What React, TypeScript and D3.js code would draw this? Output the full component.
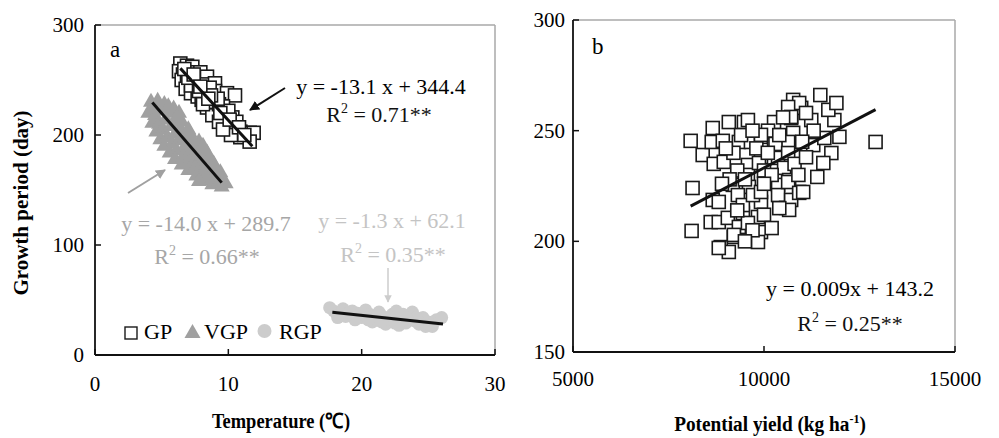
import React from "react";
import * as d3 from "d3";

// ---------- Data ----------
// Panel a: temperature (°C) vs growth period (day)
const gpTemp = [6.4, 6.9, 7.3, 6.3, 6.6, 7.0, 7.9, 7.5, 6.5, 6.9, 7.3, 8.0, 8.4, 7.6, 8.2, 9.0, 6.8, 7.2, 7.7, 8.3, 9.0, 9.9, 10.5, 8.6, 8.0, 8.4, 9.0, 9.5, 8.8, 9.9, 10.3, 9.9, 9.3, 10.5, 10.9, 11.6, 11.9, 10.9, 11.6, 10.2, 9.6, 8.9, 9.3, 7.2, 8.6, 9.6, 10.0, 9.2, 7.0, 7.8, 10.6, 8.1, 6.7, 7.4, 8.7, 9.4, 10.1, 10.8, 11.2, 7.9, 8.5];
const gpDay = [265, 263, 262, 258, 255, 257, 257, 252, 250, 248, 248, 250, 253, 244, 246, 247, 242, 238, 235, 239, 240, 238, 236, 229, 232, 225, 222, 218, 218, 212, 216, 209, 212, 206, 203, 202, 202, 198, 194, 200, 205, 230, 228, 245, 243, 226, 222, 233, 252, 240, 212, 228, 260, 255, 236, 220, 214, 207, 200, 244, 233];

const vgpTemp = [4.2, 4.6, 4.0, 4.5, 5.0, 4.3, 4.8, 5.3, 5.6, 4.6, 5.1, 5.7, 6.0, 4.9, 5.4, 6.0, 6.4, 5.2, 5.8, 6.3, 6.8, 5.6, 6.1, 6.7, 7.2, 6.0, 6.6, 7.1, 7.6, 6.5, 7.0, 7.5, 8.0, 7.0, 7.5, 8.0, 8.4, 7.6, 8.1, 8.6, 8.3, 8.8, 9.2, 8.8, 9.3, 9.8, 9.5, 4.4, 5.2, 7.8, 6.9, 7.9, 5.9, 6.5, 7.1, 7.8, 8.4, 8.9, 9.4, 6.3, 7.3, 8.6, 5.5, 6.2, 7.0, 8.1, 9.0, 4.7];
const vgpDay = [232, 228, 222, 220, 224, 213, 212, 216, 222, 205, 207, 210, 215, 198, 200, 203, 208, 192, 194, 197, 200, 186, 188, 190, 193, 180, 182, 185, 188, 175, 177, 179, 182, 170, 172, 174, 177, 165, 167, 170, 161, 163, 166, 157, 159, 158, 155, 226, 230, 160, 195, 191, 226, 214, 204, 196, 186, 176, 168, 222, 198, 181, 228, 218, 207, 192, 173, 233];

const rgpTemp = [17.9, 18.3, 18.6, 19.0, 19.3, 19.7, 20.0, 20.3, 20.6, 21.0, 21.3, 21.6, 22.0, 22.3, 22.6, 23.0, 23.3, 23.6, 24.0, 24.3, 24.6, 25.0, 25.3, 25.6, 26.0, 19.5, 20.8, 22.8, 24.8, 21.8, 18.8, 23.8, 17.6, 18.2, 19.1, 20.1, 21.1, 22.1, 23.1, 24.1, 25.1, 20.5, 21.5, 22.5, 23.5];
const rgpDay = [40, 38, 42, 36, 40, 38, 34, 41, 37, 33, 39, 35, 31, 37, 40, 33, 29, 36, 31, 28, 34, 30, 26, 32, 34, 32, 30, 27, 26, 28, 35, 39, 43, 34, 39, 37, 35, 34, 37, 34, 28, 32, 30, 29, 31];

// Panel b: potential yield (kg/ha) vs growth period (day)
const yieldKg = [8080, 8130, 8105, 8658, 8395, 8684, 8947, 8632, 8921, 9079, 9474, 9342, 9658, 9921, 10263, 10263, 9579, 9921, 10368, 10526, 9579, 9184, 9605, 10105, 10368, 8658, 8816, 9316, 9921, 10368, 10579, 8605, 8816, 9053, 9342, 9447, 9842, 9921, 9211, 8868, 9079, 9842, 9447, 9711, 12921, 10711, 11237, 11842, 11684, 11974, 11763, 11553, 11395, 11289, 11579, 10763, 10632, 10658, 10921, 10711, 10658, 10974, 11474, 11895, 10763, 10921, 10632, 10711, 10105, 9921, 10300, 10632, 9579, 10632, 10921, 9868, 9921, 9579, 11026, 8816, 9211, 9200, 9400, 9800, 10000, 10200, 9300, 9700, 10400, 10100, 9500, 9000, 10500, 11100, 11300, 11000, 10800, 11100, 10900, 10400, 10000, 9700, 9300, 9100, 8900, 9500, 10200, 10000];
const periodDay = [245.4, 224.1, 204.7, 251.2, 239.0, 235.0, 235.9, 244.9, 245.4, 253.9, 253.9, 244.9, 244.9, 247.2, 253.9, 243.5, 234.5, 238.1, 237.7, 233.2, 230.0, 225.5, 224.6, 226.8, 225.5, 218.7, 217.8, 220.9, 217.8, 220.9, 215.1, 208.7, 208.7, 210.6, 206.5, 212.8, 211.0, 204.2, 202.0, 197.4, 195.2, 199.7, 216.4, 220.9, 244.9, 255.7, 254.8, 254.8, 259.4, 247.2, 239.9, 235.4, 229.1, 243.5, 246.7, 249.0, 244.9, 227.7, 222.3, 218.7, 214.2, 260.3, 266.1, 262.5, 263.9, 262.5, 260.7, 256.2, 250.0, 248.1, 244.0, 239.9, 254.8, 226.8, 221.9, 235.4, 222.3, 208.3, 222.3, 197.0, 202.9, 240, 248, 242, 232, 230, 232, 250, 248, 240, 228, 242, 256, 258, 250, 245, 235, 238, 230, 215, 212, 205, 214, 228, 226, 200, 206, 226];

// Fits
const gpFit = { slope: -13.1, intercept: 344.4, from: 6.4, to: 11.8 };
const vgpFit = { slope: -14.0, intercept: 289.7, from: 4.3, to: 9.5 };
const rgpFit = { slope: -1.3, intercept: 62.1, from: 17.8, to: 26.1 };
const yieldFit = { slope: 0.009, intercept: 143.2, from: 8080, to: 12920 };

// Ticks
const tempTicks = [0, 10, 20, 30];
const dayTicksA = [0, 100, 200, 300];
const yieldTicks = [5000, 10000, 15000];
const dayTicksB = [150, 200, 250, 300];

const FONT = "'Liberation Serif', 'Times New Roman', serif";
const VGP_COL = "#a0a0a0";
const RGP_COL = "#cccccc";

export default function App() {
  const xA = d3.scaleLinear().domain([0, 30]).range([95, 495]);
  const yA = d3.scaleLinear().domain([0, 300]).range([355, 25]);
  const xB = d3.scaleLinear().domain([5000, 15000]).range([573, 955]);
  const yB = d3.scaleLinear().domain([150, 300]).range([352, 20]);

  const sq = 13;
  const tri = (cx: number, cy: number, w = 16, h = 14) =>
    `M${cx},${cy - h / 2}L${cx + w / 2},${cy + h / 2}L${cx - w / 2},${cy + h / 2}Z`;

  const fitLine = (f: any, xs: any, ys: any) => (
    <line
      x1={xs(f.from)}
      y1={ys(f.slope * f.from + f.intercept)}
      x2={xs(f.to)}
      y2={ys(f.slope * f.to + f.intercept)}
      stroke="#111"
      strokeWidth={3}
    />
  );

  const frame = (xs: any, ys: any) => {
    const [x0, x1] = xs.range();
    const [y0, y1] = ys.range();
    return (
      <g>
        <line x1={x0} y1={y1} x2={x1} y2={y1} stroke="#a8a8a8" strokeWidth={1.5} />
        <line x1={x1} y1={y1} x2={x1} y2={y0} stroke="#a8a8a8" strokeWidth={1.5} />
        <line x1={x0} y1={y0} x2={x1} y2={y0} stroke="#111" strokeWidth={1.8} />
        <line x1={x0} y1={y0} x2={x0} y2={y1} stroke="#111" strokeWidth={1.8} />
      </g>
    );
  };

  const R2 = (x: number, y: number, val: string, color: string) => (
    <text x={x} y={y} fill={color} fontSize={22} textAnchor="middle" fontFamily={FONT}>
      R<tspan dy={-9} fontSize={14}>2</tspan>
      <tspan dy={9}> = {val}**</tspan>
    </text>
  );

  return (
    <svg width={999} height={438} style={{ position: "absolute", left: 0, top: 0, background: "#fff" }} fontFamily={FONT}>
      <defs>
        <marker id="ahBlack" viewBox="0 0 10 10" refX="9" refY="5" markerWidth="5" markerHeight="5" orient="auto">
          <path d="M0,0L10,5L0,10Z" fill="#111" />
        </marker>
        <marker id="ahGray" viewBox="0 0 10 10" refX="9" refY="5" markerWidth="5" markerHeight="5" orient="auto">
          <path d="M0,0L10,5L0,10Z" fill={VGP_COL} />
        </marker>
        <marker id="ahLight" viewBox="0 0 10 10" refX="9" refY="5" markerWidth="5" markerHeight="5" orient="auto">
          <path d="M0,0L10,5L0,10Z" fill={RGP_COL} />
        </marker>
      </defs>

      {/* ---------- Panel a ---------- */}
      {frame(xA, yA)}
      {tempTicks.map((t) => (
        <g key={"xa" + t}>
          <line x1={xA(t)} x2={xA(t)} y1={yA(0)} y2={yA(0) - 6} stroke="#111" strokeWidth={1.5} />
          <text x={xA(t)} y={391} fontSize={21} textAnchor="middle">{t}</text>
        </g>
      ))}
      {dayTicksA.map((t) => (
        <g key={"ya" + t}>
          <line x1={xA(0)} x2={xA(0) + 6} y1={yA(t)} y2={yA(t)} stroke="#111" strokeWidth={1.5} />
          <text x={84} y={yA(t) + 7} fontSize={21} textAnchor="end">{t}</text>
        </g>
      ))}

      {rgpTemp.map((t, i) => (
        <circle key={"r" + i} cx={xA(t)} cy={yA(rgpDay[i])} r={6.5} fill={RGP_COL} />
      ))}
      {vgpTemp.map((t, i) => (
        <path key={"v" + i} d={tri(xA(t), yA(vgpDay[i]))} fill={VGP_COL} />
      ))}
      {gpTemp.map((t, i) => (
        <rect key={"g" + i} x={xA(t) - sq / 2} y={yA(gpDay[i]) - sq / 2} width={sq} height={sq} fill="#fff" stroke="#1a1a1a" strokeWidth={1.6} />
      ))}

      {fitLine(gpFit, xA, yA)}
      {fitLine(vgpFit, xA, yA)}
      {fitLine(rgpFit, xA, yA)}

      <text x={110} y={57} fontSize={23}>a</text>

      <text x={381} y={94} fontSize={22} textAnchor="middle">y = -13.1 x + 344.4</text>
      {R2(379, 122, "0.71", "#111")}
      <line x1={285} y1={88} x2={250} y2={110} stroke="#111" strokeWidth={2} markerEnd="url(#ahBlack)" />

      <line x1={128} y1={193} x2={165} y2={170} stroke={VGP_COL} strokeWidth={2} markerEnd="url(#ahGray)" />
      <text x={206} y={231} fontSize={22} textAnchor="middle" fill="#a6a6a6">y = -14.0 x + 289.7</text>
      {R2(207, 264, "0.66", "#a6a6a6")}

      <text x={392} y={228} fontSize={22} textAnchor="middle" fill="#c4c4c4">y = -1.3 x + 62.1</text>
      {R2(393, 262, "0.35", "#c4c4c4")}
      <line x1={388} y1={268} x2={388} y2={302} stroke={RGP_COL} strokeWidth={1.5} markerEnd="url(#ahLight)" />

      {/* legend */}
      <rect x={125} y={327} width={12} height={12} fill="#fff" stroke="#1a1a1a" strokeWidth={1.4} />
      <text x={144} y={339} fontSize={22}>GP</text>
      <path d={tri(192.5, 331, 16, 14)} fill={VGP_COL} />
      <text x={204} y={339} fontSize={22}>VGP</text>
      <circle cx={264.5} cy={331} r={7} fill={RGP_COL} />
      <text x={279} y={339} fontSize={22}>RGP</text>

      {/* ---------- Panel b ---------- */}
      {frame(xB, yB)}
      {yieldTicks.map((t) => (
        <g key={"xb" + t}>
          <line x1={xB(t)} x2={xB(t)} y1={yB(150)} y2={yB(150) - 6} stroke="#111" strokeWidth={1.5} />
          <text x={xB(t)} y={386} fontSize={21} textAnchor="middle">{t}</text>
        </g>
      ))}
      {dayTicksB.map((t) => (
        <g key={"yb" + t}>
          <line x1={xB(5000)} x2={xB(5000) + 6} y1={yB(t)} y2={yB(t)} stroke="#111" strokeWidth={1.5} />
          <text x={565} y={yB(t) + 7} fontSize={21} textAnchor="end">{t}</text>
        </g>
      ))}
      {yieldKg.map((v, i) => (
        <rect key={"b" + i} x={xB(v) - 6.5} y={yB(periodDay[i]) - 6.5} width={13} height={13} fill="#fff" stroke="#1a1a1a" strokeWidth={1.6} />
      ))}
      {fitLine(yieldFit, xB, yB)}
      <text x={592} y={54} fontSize={23}>b</text>
      <text x={850} y={296} fontSize={22} textAnchor="middle">y = 0.009x + 143.2</text>
      {R2(850, 331, "0.25", "#111")}

      {/* ---------- Axis titles ---------- */}
      <text transform="translate(28,203) rotate(-90)" fontSize={21} fontWeight="bold" textAnchor="middle">
        Growth period (day)
      </text>
      <text transform="translate(281,428) scale(0.88,1)" fontSize={21} fontWeight="bold" textAnchor="middle">
        Temperature (℃)
      </text>
      <text transform="translate(770,431) scale(0.92,1)" fontSize={21} fontWeight="bold" textAnchor="middle">
        Potential yield (kg ha<tspan dy={-8} fontSize={13}>-1</tspan><tspan dy={8}>)</tspan>
      </text>
    </svg>
  );
}
